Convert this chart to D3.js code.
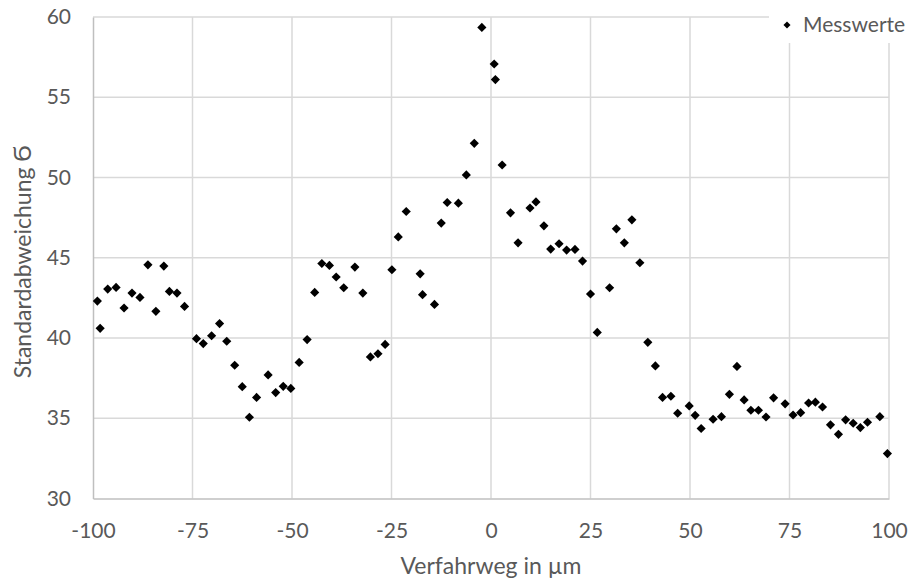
<!DOCTYPE html>
<html>
<head>
<meta charset="utf-8">
<script src="https://cdn.jsdelivr.net/npm/d3@7"></script>
<style>
  body { margin: 0; background: #fff; }
  text { font-family: Lato, "Open Sans", sans-serif; fill: #595959; }
</style>
</head>
<body>
<div id="datavis"></div>
<script>

// Verfahrweg (µm) and Standardabweichung
const positions = [
  -98.9, -98.2, -96.3, -94.2, -92.2, -90.2, -88.2, -86.2, -84.2, -82.2,
  -80.8, -78.9, -77.0, -74.0, -72.3, -70.2, -68.2, -66.4, -64.4, -62.5,
  -60.7, -58.9, -56.0, -54.1, -52.2, -50.3, -48.2, -46.2, -44.3, -42.5,
  -40.6, -38.9, -37.0, -34.2, -32.2, -30.3, -28.4, -26.6, -24.9, -23.3,
  -21.3, -17.8, -17.2, -14.2, -12.5, -11.0, -8.2, -6.2, -4.2, -2.3,
  0.8, 1.1, 2.8, 4.9, 6.8, 9.8, 11.3, 13.3, 15.0, 17.1,
  19.0, 21.1, 23.0, 25.0, 26.7, 29.8, 31.5, 33.5, 35.4, 37.4,
  39.4, 41.3, 43.1, 45.2, 46.9, 49.8, 51.3, 52.8, 55.8, 57.9,
  59.9, 61.8, 63.6, 65.3, 67.2, 69.1, 71.0, 73.9, 75.9, 77.8,
  79.8, 81.5, 83.3, 85.3, 87.3, 89.1, 91.0, 92.8, 94.6, 97.7,
  99.6
];
const sigma = [
  42.3, 40.6, 43.05, 43.15, 41.87, 42.8, 42.53, 44.56, 41.66, 44.48,
  42.9, 42.8, 41.97, 39.96, 39.65, 40.14, 40.9, 39.8, 38.3, 36.97,
  35.06, 36.3, 37.7, 36.6, 36.99, 36.86, 38.48, 39.9, 42.84, 44.64,
  44.52, 43.8, 43.13, 44.42, 42.8, 38.82, 39.02, 39.6, 44.25, 46.3,
  47.88, 44.0, 42.7, 42.09, 47.16, 48.44, 48.4, 50.16, 52.13, 59.35,
  57.07, 56.1, 50.78, 47.8, 45.93, 48.1, 48.48, 46.99, 45.54, 45.87,
  45.48, 45.52, 44.79, 42.74, 40.35, 43.13, 46.8, 45.93, 47.36, 44.69,
  39.73, 38.26, 36.3, 36.37, 35.31, 35.77, 35.18, 34.36, 34.94, 35.1,
  36.49, 38.23, 36.14, 35.5, 35.5, 35.08, 36.27, 35.9, 35.2, 35.35,
  35.95, 36.0, 35.7, 34.59, 34.0, 34.9, 34.69, 34.42, 34.75, 35.1,
  32.8
];

const xTicks = [-100, -75, -50, -25, 0, 25, 50, 75, 100];
const yTicks = [30, 35, 40, 45, 50, 55, 60];
const seriesName = "Messwerte";

const MARGIN = {top: 17, right: 22, bottom: 84.5, left: 93},
    WIDTH = 911 - MARGIN.left - MARGIN.right,
    HEIGHT = 583 - MARGIN.top - MARGIN.bottom;

const svg = d3.select("#datavis")
  .append("svg")
    .attr("width", 911)
    .attr("height", 583)
  .append("g")
    .attr("transform", "translate(" + MARGIN.left + "," + MARGIN.top + ")");

const x = d3.scaleLinear().domain([-100, 100]).range([0, WIDTH]);
const y = d3.scaleLinear().domain([30, 60]).range([HEIGHT, 0]);

// gridlines
svg.append("g")
  .selectAll("line")
  .data(yTicks.slice(1))
  .join("line")
    .attr("x1", 0).attr("x2", WIDTH)
    .attr("y1", d => y(d)).attr("y2", d => y(d))
    .attr("stroke", "#d9d9d9").attr("stroke-width", 1.5);

svg.append("g")
  .selectAll("line")
  .data(xTicks.slice(1))
  .join("line")
    .attr("x1", d => x(d)).attr("x2", d => x(d))
    .attr("y1", 0).attr("y2", HEIGHT)
    .attr("stroke", "#d9d9d9").attr("stroke-width", 1.5);

// axes (plain hyphen for negatives, like Excel)
const fmt = d => String(d);

const xAxis = svg.append("g")
  .attr("transform", "translate(0," + HEIGHT + ")")
  .call(d3.axisBottom(x).tickValues(xTicks).tickFormat(fmt).tickSize(0).tickPadding(25));
xAxis.select(".domain").attr("stroke", "#bfbfbf").attr("stroke-width", 1.5);

const yAxis = svg.append("g")
  .call(d3.axisLeft(y).tickValues(yTicks).tickFormat(fmt).tickSize(0).tickPadding(22));
yAxis.select(".domain").attr("stroke", "#bfbfbf").attr("stroke-width", 1.5);

svg.selectAll(".tick text")
  .attr("font-family", "Lato")
  .attr("font-size", 21)
  .attr("fill", "#595959");

// points
svg.append("g")
  .selectAll("path")
  .data(positions.map((p, i) => ({x: p, y: sigma[i]})))
  .join("path")
    .attr("d", d3.symbol(d3.symbolSquare, 42))
    .attr("transform", d => "translate(" + x(d.x) + "," + y(d.y) + ") rotate(45)")
    .attr("fill", "#000");

// axis titles
svg.append("text")
  .attr("x", WIDTH / 2)
  .attr("y", HEIGHT + 75)
  .attr("text-anchor", "middle")
  .attr("font-size", 23)
  .text("Verfahrweg in µm");

svg.append("text")
  .attr("transform", "translate(" + (31 - MARGIN.left) + "," + (HEIGHT / 2 + 4) + ") rotate(-90)")
  .attr("text-anchor", "middle")
  .attr("font-size", 23)
  .text("Standardabweichung Ϭ");

// legend
const legend = svg.append("g")
  .attr("transform", "translate(" + (WIDTH - 120) + ",-8)");
legend.append("rect")
  .attr("width", 145).attr("height", 34)
  .attr("fill", "#fff");
legend.append("path")
  .attr("d", d3.symbol(d3.symbolSquare, 25))
  .attr("transform", "translate(18,16) rotate(45)")
  .attr("fill", "#000");
legend.append("text")
  .attr("x", 34)
  .attr("y", 23)
  .attr("font-size", 21)
  .text(seriesName);

</script>
</body>
</html>
